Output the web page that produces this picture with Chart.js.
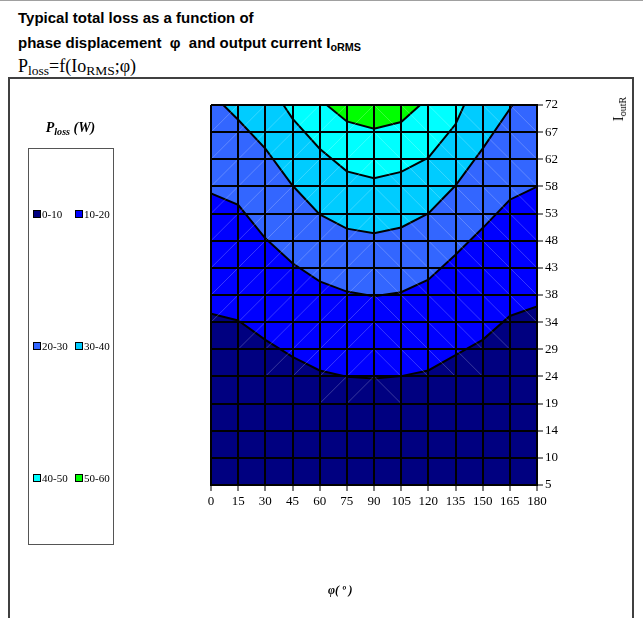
<!DOCTYPE html>
<html>
<head>
<meta charset="utf-8">
<script src="https://cdn.jsdelivr.net/npm/chart.js@4.4.0/dist/chart.umd.min.js"></script>
<style>
  html, body { margin: 0; padding: 0; background: #fff; }
  body { width: 643px; height: 618px; position: relative; overflow: hidden; }
  .abs { position: absolute; white-space: nowrap; }
  .sub { font-size: 0.72em; position: relative; top: 0.3em; }
  #topRule { left: 0; top: 0; width: 643px; height: 1px; background: #a0a0a0; }
  .head { left: 18px; font: bold 15px "Liberation Sans", Arial, sans-serif; line-height: 1; color: #000; }
  #formula { left: 18px; top: 57px; font: 18px "Liberation Serif", "Times New Roman", serif; line-height: 1; }
  #formula .sub { font-size: 0.75em; top: 0.25em; }
  #frame { left: 8px; top: 77px; width: 622px; height: 580px; border: 2px solid #404040; }
  #chart { position: absolute; left: 0; top: 0; }
  #legendTitle { left: 28px; width: 85px; top: 121px; text-align: center;
    font: italic bold 14px "Liberation Serif", "Times New Roman", serif; line-height: 1; }
  #legendBox { left: 28px; top: 148px; width: 84px; height: 395px; border: 1px solid #555; }
  .swatch { position: absolute; width: 6px; height: 6px; border: 1px solid #000; }
  .item { position: absolute; font: 11px "Liberation Serif", "Times New Roman", serif; line-height: 12px; }
  #xTitle { left: 328px; top: 584px; font: italic bold 12px "Liberation Serif", "Times New Roman", serif; line-height: 1; }
  #yTitle { left: 619px; top: 109px; transform: translate(-50%, -50%) rotate(-90deg);
    font: 14px "Liberation Serif", "Times New Roman", serif; line-height: 1; }
</style>
</head>
<body>
<div id="topRule" class="abs"></div>
<div class="abs head" style="top:10px">Typical total loss as a function of</div>
<div class="abs head" style="top:35px">phase displacement &nbsp;φ &nbsp;and output current I<span class="sub">oRMS</span></div>
<div id="formula" class="abs">P<span class="sub">loss</span>=f(Io<span class="sub">RMS</span>;φ)</div>
<div id="frame" class="abs"></div>
<canvas id="chart" width="643" height="618"></canvas>
<div id="legendTitle" class="abs">P<span class="sub">loss</span> (W)</div>
<div id="legendBox" class="abs"></div>
<div id="xTitle" class="abs">φ( º )</div>
<div id="yTitle" class="abs">I<span class="sub">outR</span></div>
<script>
// phase displacement grid (deg) and output current tick labels (A)
const phiTicks = [0, 15, 30, 45, 60, 75, 90, 105, 120, 135, 150, 165, 180];
const currentLabels = ['5', '10', '14', '19', '24', '29', '34', '38', '43', '48', '53', '58', '62', '67', '72'];
const currentMin = 5;
const currentMax = 72;

// loss bands (W) and their fill colours
const lossBands = ['0-10', '10-20', '20-30', '30-40', '40-50', '50-60'];
const bandColors = ['#000080', '#0000FF', '#3366FF', '#00CCFF', '#00FFFF', '#00FF00'];

// iso-loss lines: phase angle (deg) -> output current (A)
const phi10 = [0, 15, 30, 45, 60, 75, 90, 105, 120, 135, 150, 165, 180];
const iout10 = [35.2, 34.0, 30.6, 27.6, 25.2, 24.1, 23.8, 24.2, 25.2, 27.9, 30.6, 34.8, 36.5];

const phi20 = [0, 15, 30, 45, 60, 75, 90, 105, 120, 135, 150, 165, 180];
const iout20 = [56.4, 54.4, 48.5, 44.1, 40.9, 39.1, 38.3, 39.0, 41.2, 45.6, 50.3, 55.3, 57.6];

const phi30 = [6.8, 15, 30, 45, 60, 75, 90, 105, 120, 135, 150, 166.5];
const iout30 = [72, 69.4, 64.3, 57.8, 52.7, 50.2, 49.4, 50.4, 52.9, 57.8, 64.3, 72];

const phi40 = [40, 45, 60, 75, 90, 105, 120, 135, 139.8];
const iout40 = [72, 69.6, 64.3, 60.3, 59.1, 60.2, 62.7, 68.6, 72];

const phi50 = [63.9, 75, 90, 105, 115.5];
const iout50 = [72, 69.1, 67.8, 69.0, 72];

const isoLines = [[phi10, iout10], [phi20, iout20], [phi30, iout30], [phi40, iout40], [phi50, iout50]];

// legend: two columns, three rows
const legendBox = document.getElementById('legendBox');
lossBands.forEach((label, i) => {
    const row = Math.floor(i / 2), col = i % 2;
    const top = 61 + row * 132;
    const sw = document.createElement('div');
    sw.className = 'swatch';
    sw.style.left = (4 + col * 42) + 'px';
    sw.style.top = top + 'px';
    sw.style.background = bandColors[i];
    legendBox.appendChild(sw);
    const txt = document.createElement('div');
    txt.className = 'item';
    txt.style.left = (13 + col * 42) + 'px';
    txt.style.top = (top - 2) + 'px';
    txt.textContent = label;
    legendBox.appendChild(txt);
});

// each iso-line fills upward with the colour of the band above it;
// lower lines are drawn first so higher bands paint over them
const datasets = isoLines.map(([phi, iout], k) => ({
    data: phi.map((p, i) => ({ x: p, y: iout[i] })),
    borderColor: '#000',
    borderWidth: 2,
    pointRadius: 0,
    tension: 0,
    backgroundColor: bandColors[k + 1],
    fill: 'end',
    order: isoLines.length - k
}));

// lowest band fills the whole plot area
const plotBackground = {
    id: 'plotBackground',
    beforeDatasetsDraw(chart) {
        const { ctx, chartArea: a } = chart;
        ctx.save();
        ctx.fillStyle = bandColors[0];
        ctx.fillRect(a.left, a.top, a.right - a.left, a.bottom - a.top);
        ctx.restore();
    }
};

// faint triangle seams of the surface cells above the 10 W line
const cellSeams = {
    id: 'cellSeams',
    afterDatasetsDraw(chart) {
        const { ctx, scales: { x, y } } = chart;
        const rows = currentLabels.length - 1;
        const step = (currentMax - currentMin) / rows;
        ctx.save();
        ctx.strokeStyle = 'rgba(255,255,255,0.22)';
        ctx.lineWidth = 1;
        for (let c = 0; c < phiTicks.length - 1; c++) {
            const low = Math.min(iout10[c], iout10[c + 1]);
            const x0 = x.getPixelForValue(phiTicks[c]);
            const x1 = x.getPixelForValue(phiTicks[c + 1]);
            for (let r = 0; r < rows; r++) {
                const top = currentMin + (r + 1) * step;
                if (low >= top) continue;
                const y0 = y.getPixelForValue(currentMin + r * step);
                const y1 = y.getPixelForValue(top);
                ctx.beginPath();
                if (phiTicks[c] < 90) {
                    ctx.moveTo(x0, y0);
                    ctx.lineTo(x1, y1);
                } else {
                    ctx.moveTo(x0, y1);
                    ctx.lineTo(x1, y0);
                }
                ctx.stroke();
            }
        }
        ctx.restore();
    }
};

const tickFont = { family: 'Liberation Serif', size: 13 };
const gridStyle = { z: 1, color: '#000', lineWidth: 2, tickLength: 6, tickWidth: 1, tickColor: '#000' };

new Chart(document.getElementById('chart'), {
    type: 'line',
    data: { datasets },
    options: {
        responsive: false,
        animation: false,
        events: [],
        layout: { padding: { left: 211, top: 105, right: 66, bottom: 103 } },
        plugins: { legend: { display: false }, tooltip: { enabled: false } },
        scales: {
            x: {
                type: 'linear',
                min: 0,
                max: 180,
                afterBuildTicks: s => { s.ticks = phiTicks.map(v => ({ value: v })); },
                afterFit: s => { s.height = 30; },
                grid: gridStyle,
                border: { z: 1, color: '#000', width: 2 },
                ticks: { color: '#000', padding: 3, font: tickFont, maxRotation: 0, autoSkip: false }
            },
            y: {
                type: 'linear',
                position: 'right',
                min: currentMin,
                max: currentMax,
                afterBuildTicks: s => {
                    const n = currentLabels.length - 1;
                    s.ticks = currentLabels.map((_, i) => ({ value: currentMin + i * (currentMax - currentMin) / n }));
                },
                afterFit: s => { s.width = 40; },
                grid: gridStyle,
                border: { z: 1, color: '#000', width: 2 },
                ticks: {
                    color: '#000', padding: 2, font: tickFont, autoSkip: false,
                    callback: (v, i) => currentLabels[i]
                }
            }
        }
    },
    plugins: [plotBackground, cellSeams]
});
</script>
</body>
</html>
